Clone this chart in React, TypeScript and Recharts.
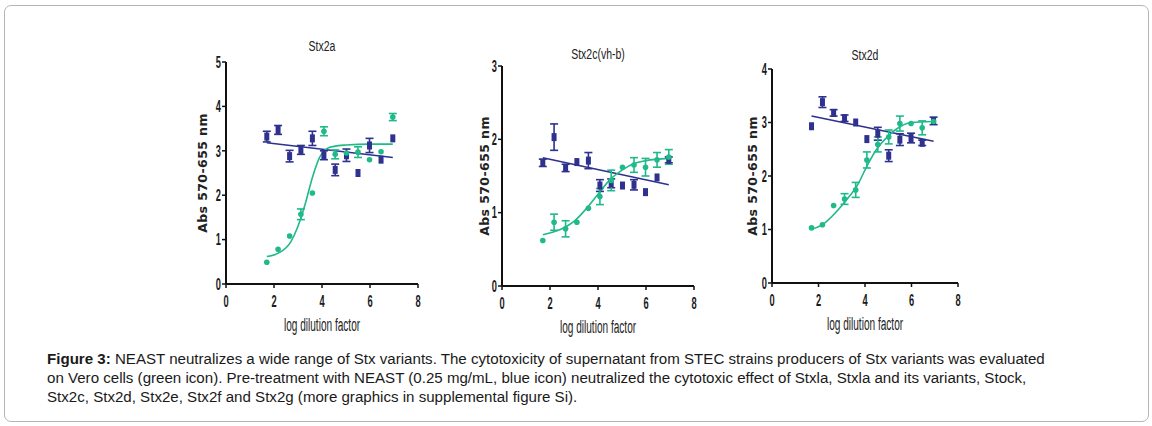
import React from "react"
import {
  ComposedChart,
  Line,
  Scatter,
  ErrorBar,
  XAxis,
  YAxis,
} from "recharts"

const BLUE = "#2e318e"
const GREEN = "#1fb98a"
const SANS = "'Liberation Sans', Arial, sans-serif"

// log dilution factor (shared by all three panels)
const DILUTIONS = [1.7, 2.17, 2.65, 3.12, 3.6, 4.08, 4.55, 5.02, 5.5, 5.98, 6.46, 6.95]

// Stx2a
const STX2A_BLUE = [3.32, 3.47, 2.88, 3.02, 3.28, 2.9, 2.57, 2.9, 2.5, 3.12, 2.8, 3.28]
const STX2A_BLUE_ERR = [0.12, 0.1, 0.13, 0.1, 0.16, 0.1, 0.13, 0.14, 0, 0.16, 0, 0]
const STX2A_GREEN = [0.49, 0.78, 1.08, 1.57, 2.05, 3.44, 2.92, 2.95, 2.97, 2.8, 2.98, 3.76]
const STX2A_GREEN_ERR = [0, 0, 0, 0.12, 0, 0.1, 0.1, 0, 0.12, 0, 0, 0.08]
const STX2A_FIT_X = [1.7, 2.2, 2.7, 3.0, 3.3, 3.6, 3.9, 4.2, 4.5, 5.0, 6.0, 6.95]
const STX2A_FIT_Y = [0.62, 0.7, 0.95, 1.3, 1.8, 2.4, 2.85, 3.05, 3.1, 3.13, 3.15, 3.15]
const STX2A_LINE_X = [1.7, 6.95]
const STX2A_LINE_Y = [3.18, 2.85]

// Stx2c(vh-b)
const STX2C_BLUE = [1.68, 2.03, 1.61, 1.69, 1.71, 1.37, 1.4, 1.37, 1.38, 1.28, 1.48, 1.72]
const STX2C_BLUE_ERR = [0.05, 0.18, 0.05, 0, 0.11, 0.08, 0.06, 0, 0.07, 0, 0, 0.04]
const STX2C_GREEN = [0.62, 0.87, 0.78, 0.87, 1.06, 1.22, 1.44, 1.62, 1.65, 1.62, 1.72, 1.76]
const STX2C_GREEN_ERR = [0, 0.11, 0.11, 0, 0, 0.11, 0.14, 0, 0.1, 0.12, 0.1, 0.1]
const STX2C_FIT_X = [1.7, 2.5, 3.0, 3.5, 4.0, 4.5, 5.0, 5.5, 6.0, 6.95]
const STX2C_FIT_Y = [0.7, 0.78, 0.88, 1.05, 1.25, 1.45, 1.58, 1.67, 1.71, 1.74]
const STX2C_LINE_X = [1.7, 6.95]
const STX2C_LINE_Y = [1.75, 1.38]

// Stx2d
const STX2D_BLUE = [2.93, 3.38, 3.18, 3.08, 3.0, 2.69, 2.79, 2.38, 2.68, 2.71, 2.62, 3.03]
const STX2D_BLUE_ERR = [0, 0.1, 0.06, 0.06, 0, 0, 0.12, 0.11, 0.11, 0.09, 0.05, 0.07]
const STX2D_GREEN = [1.03, 1.09, 1.45, 1.57, 1.74, 2.3, 2.59, 2.73, 2.98, 2.98, 2.9, 3.02]
const STX2D_GREEN_ERR = [0, 0, 0, 0.1, 0.14, 0.15, 0.14, 0.13, 0.14, 0, 0.13, 0]
const STX2D_FIT_X = [1.7, 2.2, 2.7, 3.2, 3.7, 4.1, 4.5, 5.0, 5.5, 6.0, 6.95]
const STX2D_FIT_Y = [1.0, 1.1, 1.3, 1.55, 1.85, 2.2, 2.5, 2.75, 2.92, 3.0, 3.02]
const STX2D_LINE_X = [1.7, 6.95]
const STX2D_LINE_Y = [3.12, 2.65]

const X_TICKS = [0, 2, 4, 6, 8]

const pts = (xs: number[], ys: number[], errs?: number[]) =>
  xs.map((x, i) => ({ x, y: ys[i], e: errs ? errs[i] : 0 }))

const BlueMark = (p: any) => (
  <rect x={p.cx - 2.5} y={p.cy - 4} width={5} height={8} fill={BLUE} />
)
const GreenMark = (p: any) => <circle cx={p.cx} cy={p.cy} r={2.8} fill={GREEN} />

// the source figure uses a squeezed, condensed face: fake it with a horizontal scale
const XTick = (p: any) => (
  <g transform={`translate(${p.x},${p.y})`}>
    <text transform="scale(0.58,1)" textAnchor="middle" dy="0.71em" fontSize={16} fontWeight={600} fill="#1a1a1a" fontFamily={SANS}>
      {p.payload.value}
    </text>
  </g>
)
const YTick = (p: any) => (
  <g transform={`translate(${p.x},${p.y})`}>
    <text transform="scale(0.58,1)" textAnchor="end" dy="0.36em" fontSize={16} fontWeight={600} fill="#1a1a1a" fontFamily={SANS}>
      {p.payload.value}
    </text>
  </g>
)

type PanelProps = {
  title: string
  left: number
  top: number
  w: number
  h: number
  yMax: number
  blue: any[]
  green: any[]
  fit: any[]
  trend: any[]
  titleY: number
  yLabelX: number
}

function Panel({ title, left, top, w, h, yMax, blue, green, fit, trend, titleY, yLabelX }: PanelProps) {
  const yTicks = Array.from({ length: yMax + 1 }, (_, i) => i)
  const padL = 60
  const padT = 30
  const padR = 20
  const padB = 60
  return (
    <>
      <div
        style={{
          position: "absolute",
          left: left,
          width: w,
          top: titleY - 9,
          textAlign: "center",
          fontFamily: SANS,
          fontSize: 14,
          lineHeight: "17px",
          color: "#222",
          transform: "scaleX(0.75)",
        }}
      >
        {title}
      </div>
      <div
        style={{
          position: "absolute",
          left: left,
          width: w,
          top: top + h + 31,
          textAlign: "center",
          fontFamily: SANS,
          fontSize: 18,
          lineHeight: "21px",
          color: "#222",
          transform: "scaleX(0.56)",
        }}
      >
        log dilution factor
      </div>
      <div
        style={{
          position: "absolute",
          left: yLabelX - 70,
          width: 140,
          top: top + h / 2 - 8,
          textAlign: "center",
          transform: "rotate(-90deg)",
          fontFamily: "'DejaVu Sans', sans-serif",
          fontWeight: "bold",
          fontSize: 12.5,
          lineHeight: "16px",
          letterSpacing: 0.4,
          color: "#222",
          whiteSpace: "nowrap",
        }}
      >
        Abs 570-655 nm
      </div>
      <div style={{ position: "absolute", left: left - padL, top: top - padT }}>
        <ComposedChart
          width={w + padL + padR}
          height={h + padT + padB}
          margin={{ top: padT, right: padR, left: 0, bottom: 0 }}
        >
          <XAxis
            type="number"
            dataKey="x"
            domain={[0, 8]}
            ticks={X_TICKS}
            height={padB}
            tickSize={4}
            tickMargin={8}
            stroke="#111"
            axisLine={{ stroke: "#111", strokeWidth: 2 }}
            tickLine={{ stroke: "#111", strokeWidth: 1.5 }}
            tick={XTick}
            allowDataOverflow
          />
          <YAxis
            type="number"
            dataKey="y"
            domain={[0, yMax]}
            ticks={yTicks}
            width={padL}
            tickSize={4}
            tickMargin={1}
            stroke="#111"
            axisLine={{ stroke: "#111", strokeWidth: 2 }}
            tickLine={{ stroke: "#111", strokeWidth: 1.5 }}
            tick={YTick}
            allowDataOverflow
          />
          <Line
            data={trend}
            dataKey="y"
            type="linear"
            stroke={BLUE}
            strokeWidth={1.6}
            dot={false}
            activeDot={false}
            isAnimationActive={false}
          />
          <Line
            data={fit}
            dataKey="y"
            type="monotone"
            stroke={GREEN}
            strokeWidth={1.6}
            dot={false}
            activeDot={false}
            isAnimationActive={false}
          />
          <Scatter data={blue} dataKey="y" shape={BlueMark} isAnimationActive={false}>
            <ErrorBar dataKey="e" direction="y" width={4} strokeWidth={1.6} stroke={BLUE} />
          </Scatter>
          <Scatter data={green} dataKey="y" shape={GreenMark} isAnimationActive={false}>
            <ErrorBar dataKey="e" direction="y" width={4} strokeWidth={1.6} stroke={GREEN} />
          </Scatter>
        </ComposedChart>
      </div>
    </>
  )
}

export default function App() {
  return (
    <div
      style={{
        position: "absolute",
        left: 0,
        top: 0,
        width: 1152,
        height: 426,
        background: "#fff",
        overflow: "hidden",
      }}
    >
      <div
        style={{
          position: "absolute",
          left: 4,
          top: 5,
          width: 1143,
          height: 415,
          border: "1px solid #b5b5b5",
          borderRadius: 7,
        }}
      />
      <Panel
        title="Stx2a"
        left={226}
        top={62}
        w={192}
        h={222}
        yMax={5}
        blue={pts(DILUTIONS, STX2A_BLUE, STX2A_BLUE_ERR)}
        green={pts(DILUTIONS, STX2A_GREEN, STX2A_GREEN_ERR)}
        fit={pts(STX2A_FIT_X, STX2A_FIT_Y)}
        trend={pts(STX2A_LINE_X, STX2A_LINE_Y)}
        titleY={47}
        yLabelX={203}
      />
      <Panel
        title="Stx2c(vh-b)"
        left={502}
        top={66}
        w={192}
        h={220}
        yMax={3}
        blue={pts(DILUTIONS, STX2C_BLUE, STX2C_BLUE_ERR)}
        green={pts(DILUTIONS, STX2C_GREEN, STX2C_GREEN_ERR)}
        fit={pts(STX2C_FIT_X, STX2C_FIT_Y)}
        trend={pts(STX2C_LINE_X, STX2C_LINE_Y)}
        titleY={55}
        yLabelX={485}
      />
      <Panel
        title="Stx2d"
        left={772}
        top={69}
        w={186}
        h={214}
        yMax={4}
        blue={pts(DILUTIONS, STX2D_BLUE, STX2D_BLUE_ERR)}
        green={pts(DILUTIONS, STX2D_GREEN, STX2D_GREEN_ERR)}
        fit={pts(STX2D_FIT_X, STX2D_FIT_Y)}
        trend={pts(STX2D_LINE_X, STX2D_LINE_Y)}
        titleY={56}
        yLabelX={753}
      />
      <div
        style={{
          position: "absolute",
          left: 47,
          top: 349,
          fontFamily: "Arial, 'Liberation Sans', sans-serif",
          fontSize: 15.1,
          lineHeight: "19px",
          color: "#1a1a1a",
          whiteSpace: "nowrap",
        }}
      >
        <div>
          <b>Figure 3:</b> NEAST neutralizes a wide range of Stx variants. The cytotoxicity of
          supernatant from STEC strains producers of Stx variants was evaluated
        </div>
        <div>
          on Vero cells (green icon). Pre-treatment with NEAST (0.25 mg/mL, blue icon) neutralized
          the cytotoxic effect of Stxla, Stxla and its variants, Stock,
        </div>
        <div>Stx2c, Stx2d, Stx2e, Stx2f and Stx2g (more graphics in supplemental figure Si).</div>
      </div>
    </div>
  )
}
